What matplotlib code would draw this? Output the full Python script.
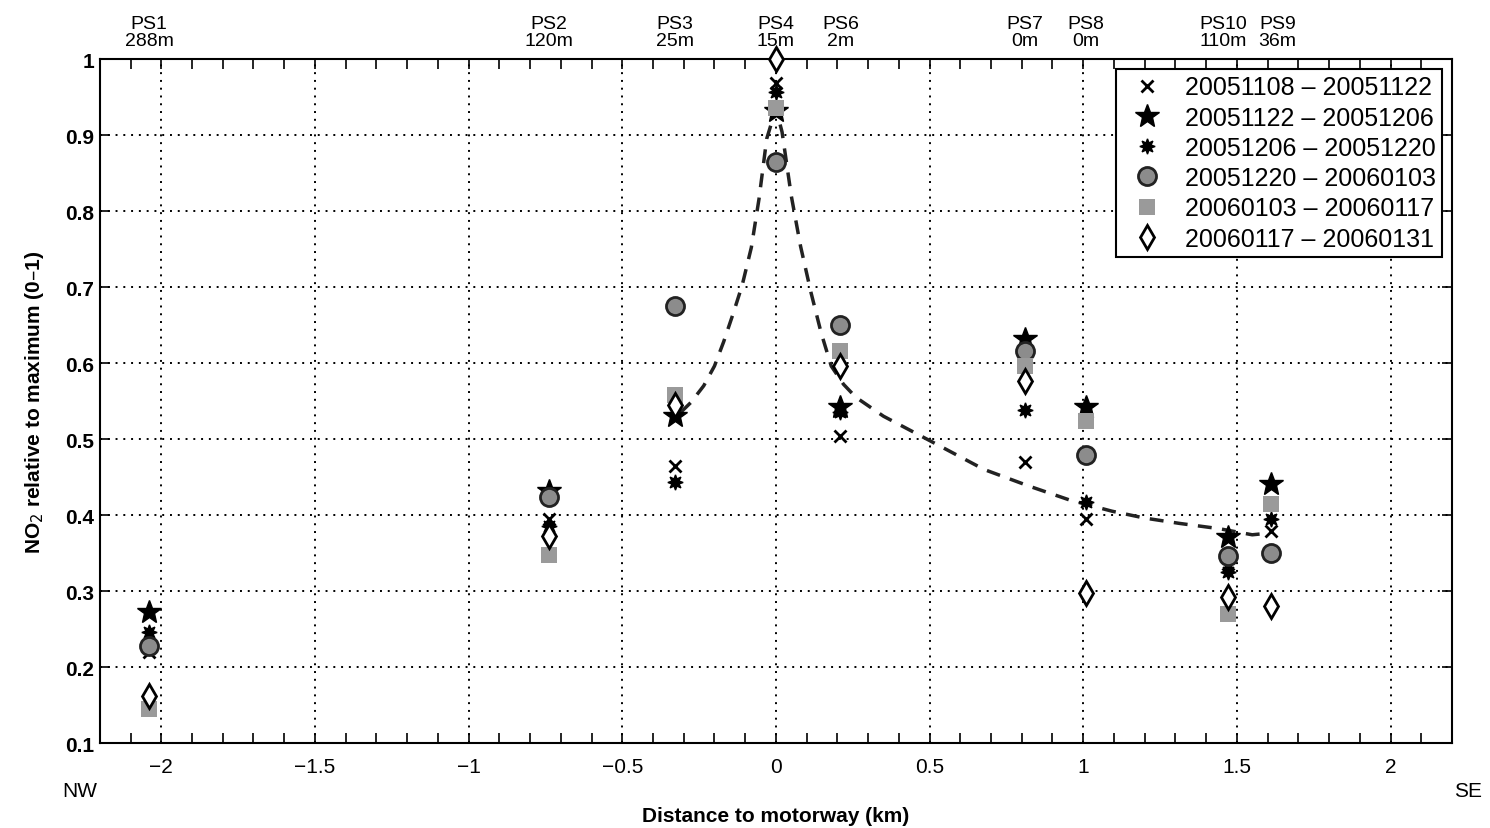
import numpy as np
import matplotlib
matplotlib.use('Agg')
import matplotlib.pyplot as plt
from matplotlib.ticker import MultipleLocator, FuncFormatter

plt.rcParams['font.family'] = ['Liberation Sans', 'DejaVu Sans']

# Stations: name, distance to motorway (km), sampler distance to road
stations = ['PS1', 'PS2', 'PS3', 'PS4', 'PS6', 'PS7', 'PS8', 'PS10', 'PS9']
station_dist = ['288m', '120m', '25m', '15m', '2m', '0m', '0m', '110m', '36m']
station_x = [-2.04, -0.74, -0.33, 0.0, 0.21, 0.81, 1.01, 1.47, 1.61]

# NO2 relative to maximum, one list per sampling period (same station order)
periods = ['20051108 – 20051122', '20051122 – 20051206', '20051206 – 20051220',
           '20051220 – 20060103', '20060103 – 20060117', '20060117 – 20060131']
p1 = [0.220, 0.395, 0.464, 0.968, 0.504, 0.470, 0.395, 0.335, 0.379]
p2 = [0.272, 0.432, 0.530, 0.932, 0.542, 0.632, 0.542, 0.371, 0.441]
p3 = [0.246, 0.385, 0.443, 0.957, 0.535, 0.538, 0.417, 0.325, 0.395]
p4 = [0.228, 0.424, 0.675, 0.864, 0.650, 0.616, 0.479, 0.346, 0.350]
p5 = [0.145, 0.347, 0.558, 0.935, 0.616, 0.596, 0.524, 0.270, 0.414]
p6 = [0.162, 0.373, 0.545, 1.000, 0.596, 0.576, 0.297, 0.292, 0.280]

# Fitted dashed curve
fit_x = [-0.31, -0.277, -0.235, -0.20, -0.17, -0.14, -0.11, -0.08, -0.055, -0.03,
         0.0, 0.02, 0.05, 0.08, 0.114, 0.147, 0.18, 0.22, 0.26, 0.35, 0.5,
         0.677, 0.824, 0.954, 1.094, 1.2, 1.313, 1.443, 1.55, 1.6]
fit_y = [0.535, 0.548, 0.570, 0.596, 0.628, 0.664, 0.702, 0.752, 0.816, 0.895,
         0.935, 0.904, 0.820, 0.754, 0.693, 0.640, 0.596, 0.572, 0.555, 0.530, 0.498,
         0.460, 0.438, 0.420, 0.405, 0.396, 0.389, 0.382, 0.374, 0.376]

styles = [
    dict(marker='x', ms=8, mew=2, color='black'),
    dict(marker='*', ms=18, color='black', mec='black'),
    dict(marker=(8, 1, 0), ms=11, color='black', mec='black'),
    dict(marker='o', ms=13, mfc='#8c8c8c', mec='#222222', mew=2),
    dict(marker='s', ms=11, mfc='#9a9a9a', mec='#9a9a9a', mew=0),
    dict(marker='d', ms=12, mfc='white', mec='black', mew=2),
]

fig = plt.figure(figsize=(14.9, 8.29), dpi=100)
ax = fig.add_axes([0.067, 0.1025, 0.9075, 0.8251])

ax.plot(fit_x, fit_y, linestyle=(0, (4, 3)), color='#222222', lw=2.5, zorder=2)

series = [p1, p2, p3, p4, p5, p6]
for vals, label, st in zip(series, periods, styles):
    ax.plot(station_x, vals, linestyle='none', label=label, clip_on=False, zorder=3, **st)

ax.set_xlim(-2.2, 2.2)
ax.set_ylim(0.1, 1.0)
ax.xaxis.set_major_locator(MultipleLocator(0.5))
ax.xaxis.set_minor_locator(MultipleLocator(0.1))
ax.yaxis.set_major_locator(MultipleLocator(0.1))
fmt = FuncFormatter(lambda v, pos: f'{v:g}'.replace('-', '\u2212'))
ax.xaxis.set_major_formatter(fmt)
ax.yaxis.set_major_formatter(fmt)
ax.tick_params(which='both', direction='in', top=True, right=True, length=7, width=1.2)
ax.tick_params(axis='x', labelsize=15, pad=10)
ax.tick_params(axis='y', labelsize=15, pad=4)
for t in ax.get_yticklabels():
    t.set_fontweight('bold')
ax.grid(True, which='major', linestyle=(0, (1, 3)), color='black', lw=1.4)
for s in ax.spines.values():
    s.set_linewidth(1.5)

ax.set_xlabel('Distance to motorway (km)', fontsize=15, fontweight='bold', labelpad=22)
ax.set_ylabel('NO$_2$ relative to maximum (0–1)', fontsize=15, fontweight='bold', labelpad=14)

# NW / SE direction labels
ax.text(-0.015, -0.055, 'NW', transform=ax.transAxes, ha='center', va='top', fontsize=15)
ax.text(1.012, -0.055, 'SE', transform=ax.transAxes, ha='center', va='top', fontsize=15)

# Station labels along the top; the two close ones are nudged apart a little
trans = ax.get_xaxis_transform()
for name, d, x in zip(stations, station_dist, station_x):
    dx = {'PS10': -3, 'PS9': 5}.get(name, 0)
    ax.annotate(f'{name}\n{d}', xy=(x, 1.0), xycoords=trans, xytext=(dx, 7),
                textcoords='offset points', ha='center', va='bottom',
                fontsize=14, linespacing=1.0)

leg = ax.legend(loc='upper right', fontsize=18, frameon=True, fancybox=False,
                edgecolor='black', framealpha=1, borderaxespad=0.4,
                handletextpad=0.5, labelspacing=0.25, borderpad=0.25)
leg.get_frame().set_linewidth(1.5)

fig.savefig('out.png', dpi=100)
